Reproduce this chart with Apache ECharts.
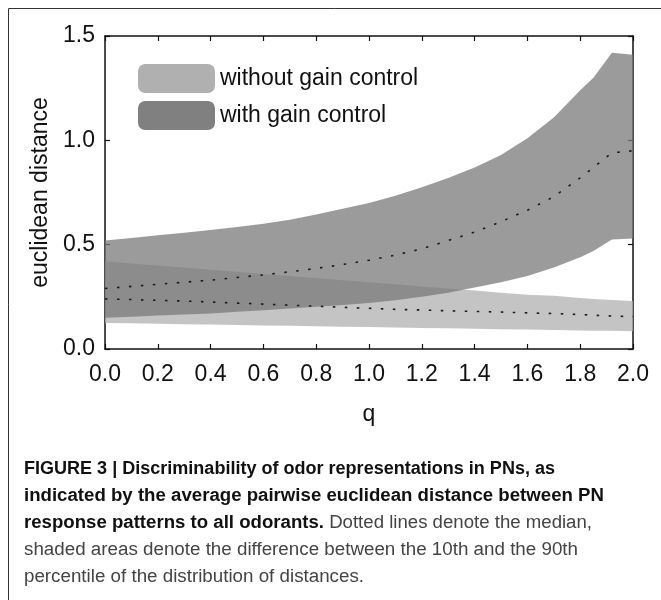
<!DOCTYPE html>
<html>
<head>
<meta charset="utf-8">
<script src="https://cdn.jsdelivr.net/npm/echarts@6/dist/echarts.min.js"></script>
<style>
  html, body { margin: 0; padding: 0; background: #fff; }
  #chart { width: 661px; height: 600px; }
</style>
</head>
<body>
<div id="chart"></div>
<script>
// q values (x axis)
const qValues = [0, 0.1, 0.2, 0.3, 0.4, 0.5, 0.6, 0.7, 0.8, 0.9, 1.0, 1.1, 1.2, 1.3, 1.4, 1.5, 1.6, 1.7, 1.8, 1.85, 1.92, 2.0];

// with gain control: 10th / 90th percentile and median
const withLower  = [0.15, 0.155, 0.16, 0.165, 0.17, 0.178, 0.186, 0.194, 0.203, 0.211, 0.22, 0.234, 0.25, 0.27, 0.295, 0.32, 0.35, 0.39, 0.44, 0.47, 0.525, 0.53];
const withUpper  = [0.52, 0.532, 0.545, 0.557, 0.57, 0.585, 0.60, 0.62, 0.645, 0.672, 0.70, 0.735, 0.775, 0.82, 0.87, 0.93, 1.01, 1.11, 1.24, 1.30, 1.42, 1.41];
const withMedian = [0.29, 0.30, 0.31, 0.32, 0.33, 0.343, 0.355, 0.37, 0.386, 0.405, 0.425, 0.45, 0.48, 0.52, 0.56, 0.61, 0.665, 0.73, 0.82, 0.87, 0.94, 0.95];

// without gain control
const withoutLower  = [0.125, 0.123, 0.121, 0.119, 0.117, 0.115, 0.113, 0.111, 0.109, 0.107, 0.105, 0.103, 0.101, 0.099, 0.097, 0.095, 0.093, 0.091, 0.089, 0.088, 0.087, 0.085];
const withoutUpper  = [0.42, 0.41, 0.40, 0.39, 0.38, 0.37, 0.36, 0.35, 0.34, 0.33, 0.32, 0.31, 0.30, 0.29, 0.28, 0.27, 0.26, 0.255, 0.245, 0.24, 0.235, 0.23];
const withoutMedian = [0.24, 0.237, 0.233, 0.23, 0.225, 0.22, 0.215, 0.21, 0.205, 0.20, 0.195, 0.19, 0.187, 0.183, 0.18, 0.177, 0.173, 0.17, 0.165, 0.162, 0.158, 0.155];

const FONT = '"Liberation Sans", Arial, sans-serif';

// caption, one entry per line: [bold part, regular part, width on the page]
const caption = [
  ['FIGURE 3 | Discriminability of odor representations in PNs, as', '', 531],
  ['indicated by the average pairwise euclidean distance between PN', '', 580],
  ['response patterns to all odorants.', ' Dotted lines denote the median,', 568],
  ['', 'shaded areas denote the difference between the 10th and the 90th', 554],
  ['', 'percentile of the distribution of distances.', 340]
];

let ctx = document.createElement('canvas').getContext('2d');
function textWidth(str, bold) {
  ctx.font = (bold ? 'bold ' : '') + '18px ' + FONT;
  return ctx.measureText(str).width;
}

function band(name, lower, upper, fill) {
  return {
    name: name,
    type: 'custom',
    data: qValues.map((q, i) => [q, lower[i], upper[i]]),
    encode: { x: 0, y: [1, 2] },
    z: 1,
    renderItem: function (params, api) {
      if (params.dataIndex !== 0) return;
      let pts = [];
      for (let i = 0; i < qValues.length; i++) pts.push(api.coord([qValues[i], upper[i]]));
      for (let i = qValues.length - 1; i >= 0; i--) pts.push(api.coord([qValues[i], lower[i]]));
      return { type: 'polygon', shape: { points: pts }, style: { fill: fill } };
    }
  };
}

function median(values) {
  return {
    type: 'line',
    data: qValues.map((q, i) => [q, values[i]]),
    showSymbol: false,
    z: 3,
    lineStyle: { color: '#1a1a1a', width: 1.6, type: [2.5, 9.5] }
  };
}

// caption lines squeezed to look like the condensed font of the original
let captionGraphics = caption.map(function (line, i) {
  let w = textWidth(line[0], true) + textWidth(line[1], false);
  let txt = (line[0] ? '{b|' + line[0] + '}' : '') + (line[1] ? '{r|' + line[1] + '}' : '');
  return {
    type: 'text',
    x: 24, y: 460 + i * 27,
    scaleX: line[2] / w,
    style: {
      text: txt,
      rich: {
        b: { fontWeight: 'bold', fill: '#111', fontSize: 18, fontFamily: FONT },
        r: { fill: '#444', fontSize: 18, fontFamily: FONT }
      }
    }
  };
});

let axisLine = { onZero: false, lineStyle: { color: '#111', width: 1.5 } };
let axisTick = { inside: true, length: 5, lineStyle: { color: '#111', width: 1.2 } };

let option = {
  animation: false,
  backgroundColor: '#fff',
  grid: { left: 105, right: 28, top: 36, bottom: 251 },
  legend: {
    orient: 'vertical',
    left: 133,
    top: 59,
    itemWidth: 77,
    itemHeight: 29,
    itemGap: 8,
    icon: 'roundRect',
    selectedMode: false,
    textStyle: { fontSize: 23, color: '#111', fontFamily: FONT },
    data: [
      { name: 'without gain control', itemStyle: { color: '#b0b0b0' } },
      { name: 'with gain control', itemStyle: { color: '#808080' } }
    ]
  },
  xAxis: [
    {
      type: 'value', min: 0, max: 2, interval: 0.2, position: 'bottom',
      axisLine: axisLine, axisTick: axisTick, splitLine: { show: false },
      axisLabel: { formatter: v => v.toFixed(1), fontSize: 23, color: '#111', margin: 14, fontFamily: FONT },
      name: 'q', nameLocation: 'middle', nameGap: 54,
      nameTextStyle: { fontSize: 23, color: '#111', fontFamily: FONT }
    },
    {
      type: 'value', min: 0, max: 2, interval: 0.2, position: 'top',
      axisLine: axisLine, axisTick: axisTick, splitLine: { show: false },
      axisLabel: { show: false }
    }
  ],
  yAxis: [
    {
      type: 'value', min: 0, max: 1.5, interval: 0.5, position: 'left',
      axisLine: axisLine, axisTick: axisTick, splitLine: { show: false },
      axisLabel: { formatter: v => v.toFixed(1), fontSize: 23, color: '#111', margin: 10, fontFamily: FONT },
      name: 'euclidean distance', nameLocation: 'middle', nameGap: 45,
      nameTextStyle: { fontSize: 23, color: '#111', fontFamily: FONT }
    },
    {
      type: 'value', min: 0, max: 1.5, interval: 0.5, position: 'right',
      axisLine: axisLine, axisTick: axisTick, splitLine: { show: false },
      axisLabel: { show: false }
    }
  ],
  series: [
    band('without gain control', withoutLower, withoutUpper, 'rgba(176,176,176,0.75)'),
    band('with gain control', withLower, withUpper, 'rgba(121,121,121,0.75)'),
    median(withoutMedian),
    median(withMedian)
  ],
  graphic: [
    { type: 'line', shape: { x1: 8.5, y1: 8.5, x2: 661, y2: 8.5 }, style: { stroke: '#333', lineWidth: 1 } },
    { type: 'line', shape: { x1: 8.5, y1: 8.5, x2: 8.5, y2: 600 }, style: { stroke: '#333', lineWidth: 1 } }
  ].concat(captionGraphics)
};

let myChart = echarts.init(document.getElementById('chart'));
option && myChart.setOption(option);
</script>
</body>
</html>
